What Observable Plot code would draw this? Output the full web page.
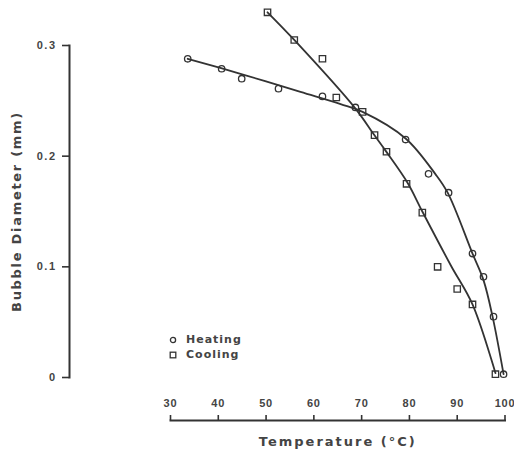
<!DOCTYPE html>
<html>
<head>
<meta charset="utf-8">
<script src="https://cdn.jsdelivr.net/npm/d3@7"></script>
<script src="https://cdn.jsdelivr.net/npm/@observablehq/plot@0.6"></script>
<style>
  body { margin: 0; background: #fff; }
  #chart { position: relative; width: 514px; height: 454px; }
  .legend {
    position: absolute; left: 168px; top: 332px;
    font: bold 11px "DejaVu Sans", sans-serif; color: #444;
    letter-spacing: 1px; line-height: 15px;
  }
  .legend div { display: flex; align-items: center; }
  .legend svg { margin-right: 8px; }
</style>
</head>
<body>
<div id="chart"></div>
<script>
// Measured bubble diameters (mm) against temperature (°C)
const heatingTemp = [33.6, 40.7, 44.9, 52.6, 61.8, 68.7, 79.2, 84.0, 88.2, 93.2, 95.5, 97.6, 99.7];
const heatingDiam = [0.288, 0.279, 0.270, 0.261, 0.254, 0.244, 0.215, 0.184, 0.167, 0.112, 0.091, 0.055, 0.003];

const coolingTemp = [50.3, 55.9, 61.8, 64.7, 70.2, 72.7, 75.2, 79.4, 82.7, 85.9, 90.0, 93.2, 98.0];
const coolingDiam = [0.330, 0.305, 0.288, 0.253, 0.240, 0.219, 0.204, 0.175, 0.149, 0.100, 0.080, 0.066, 0.003];

// Smooth fitted curves through each series
const heatingFitTemp = [33.6, 45.0, 57.2, 65.6, 70.2, 79.2, 85.4, 88.0, 93.2, 95.5, 97.4, 99.7];
const heatingFitDiam = [0.288, 0.274, 0.258, 0.247, 0.240, 0.216, 0.184, 0.167, 0.112, 0.088, 0.055, 0.003];

const coolingFitTemp = [50.3, 55.9, 68.7, 72.5, 75.0, 79.6, 82.7, 88.7, 93.2, 98.0];
const coolingFitDiam = [0.330, 0.305, 0.243, 0.220, 0.205, 0.176, 0.150, 0.101, 0.066, 0.004];

const xTicks = [30, 40, 50, 60, 70, 80, 90, 100];
const yTicks = [0, 0.1, 0.2, 0.3];
const xLabel = "Temperature (°C)";
const yLabel = "Bubble Diameter (mm)";
const seriesNames = ["Heating", "Cooling"];

const heating = heatingTemp.map((t, i) => ({temp: t, diam: heatingDiam[i]}));
const cooling = coolingTemp.map((t, i) => ({temp: t, diam: coolingDiam[i]}));
const heatingFit = heatingFitTemp.map((t, i) => ({temp: t, diam: heatingFitDiam[i]}));
const coolingFit = coolingFitTemp.map((t, i) => ({temp: t, diam: coolingFitDiam[i]}));

const ink = "#333";
const textInk = "#444";
const tickFont = "Liberation Sans, Arial, sans-serif";
const titleFont = "DejaVu Sans, sans-serif";
const xInset = 101;   // gap between the diameter axis and the first temperature tick
const yInset = 43;    // gap between zero diameter and the temperature axis

const chart = Plot.plot({
  width: 514,
  height: 454,
  marginLeft: 69,
  marginRight: 9.5,
  marginTop: 45,
  marginBottom: 34,
  style: {fontFamily: titleFont, color: textInk, background: "#fff"},
  x: {domain: [30, 100], insetLeft: xInset},
  y: {domain: [0, 0.3], insetBottom: yInset},
  marks: [
    Plot.frame({anchor: "left", insetBottom: yInset, stroke: ink, strokeWidth: 2}),
    Plot.frame({anchor: "bottom", insetLeft: xInset, stroke: ink, strokeWidth: 2}),
    Plot.axisY({
      ticks: yTicks, tickFormat: d => String(d), label: null,
      tickSize: 7, tickPadding: 6, strokeWidth: 1.6, stroke: ink,
      fontSize: 11, fontWeight: "bold", fontFamily: tickFont, fill: textInk
    }),
    Plot.axisX({
      ticks: xTicks, label: null,
      tickSize: -5, tickPadding: -16, strokeWidth: 1.6, stroke: ink,
      fontSize: 11, fontWeight: "bold", fontFamily: tickFont, fill: textInk
    }),
    Plot.text([xLabel], {
      frameAnchor: "bottom", dx: xInset / 2, dy: 21, lineAnchor: "middle",
      fontSize: 13, fontWeight: "bold", fill: textInk
    }),
    Plot.text([yLabel], {
      frameAnchor: "left", rotate: -90, textAnchor: "middle",
      dx: -53, dy: -yInset / 2, lineAnchor: "middle",
      fontSize: 13, fontWeight: "bold", fill: textInk
    }),
    Plot.line(heatingFit, {x: "temp", y: "diam", curve: "catmull-rom", stroke: ink, strokeWidth: 1.8}),
    Plot.line(coolingFit, {x: "temp", y: "diam", curve: "catmull-rom", stroke: ink, strokeWidth: 1.8}),
    Plot.dot(heating, {x: "temp", y: "diam", symbol: "circle", r: 3.2, stroke: ink, strokeWidth: 1.3, fill: "none"}),
    Plot.dot(cooling, {x: "temp", y: "diam", symbol: "square", r: 3.6, stroke: ink, strokeWidth: 1.3, fill: "none"})
  ]
});

// letter spacing on the axis titles and tick labels
const svg = d3.select(chart);
svg.selectAll("[aria-label='y-axis tick label'] text").style("letter-spacing", "1.5px");
svg.selectAll("[aria-label='x-axis tick label'] text").style("letter-spacing", "0.8px");
svg.selectAll("[aria-label='text'] text").each(function () {
  const t = this.textContent;
  d3.select(this).style("letter-spacing", t === xLabel ? "2px" : "1.7px");
});

const holder = document.getElementById("chart");
holder.appendChild(chart);

// Legend for the two series
const legend = d3.select(holder).append("div").attr("class", "legend");
const symbols = {Heating: "circle", Cooling: "square"};
for (const name of seriesNames) {
  const row = legend.append("div");
  const sw = row.append("svg").attr("width", 10).attr("height", 10);
  if (symbols[name] === "circle") {
    sw.append("circle").attr("cx", 5).attr("cy", 5).attr("r", 2.6)
      .attr("fill", "none").attr("stroke", ink).attr("stroke-width", 1.3);
  } else {
    sw.append("rect").attr("x", 2.2).attr("y", 2.2).attr("width", 5.6).attr("height", 5.6)
      .attr("fill", "none").attr("stroke", ink).attr("stroke-width", 1.3);
  }
  row.append("span").text(name);
}
</script>
</body>
</html>
